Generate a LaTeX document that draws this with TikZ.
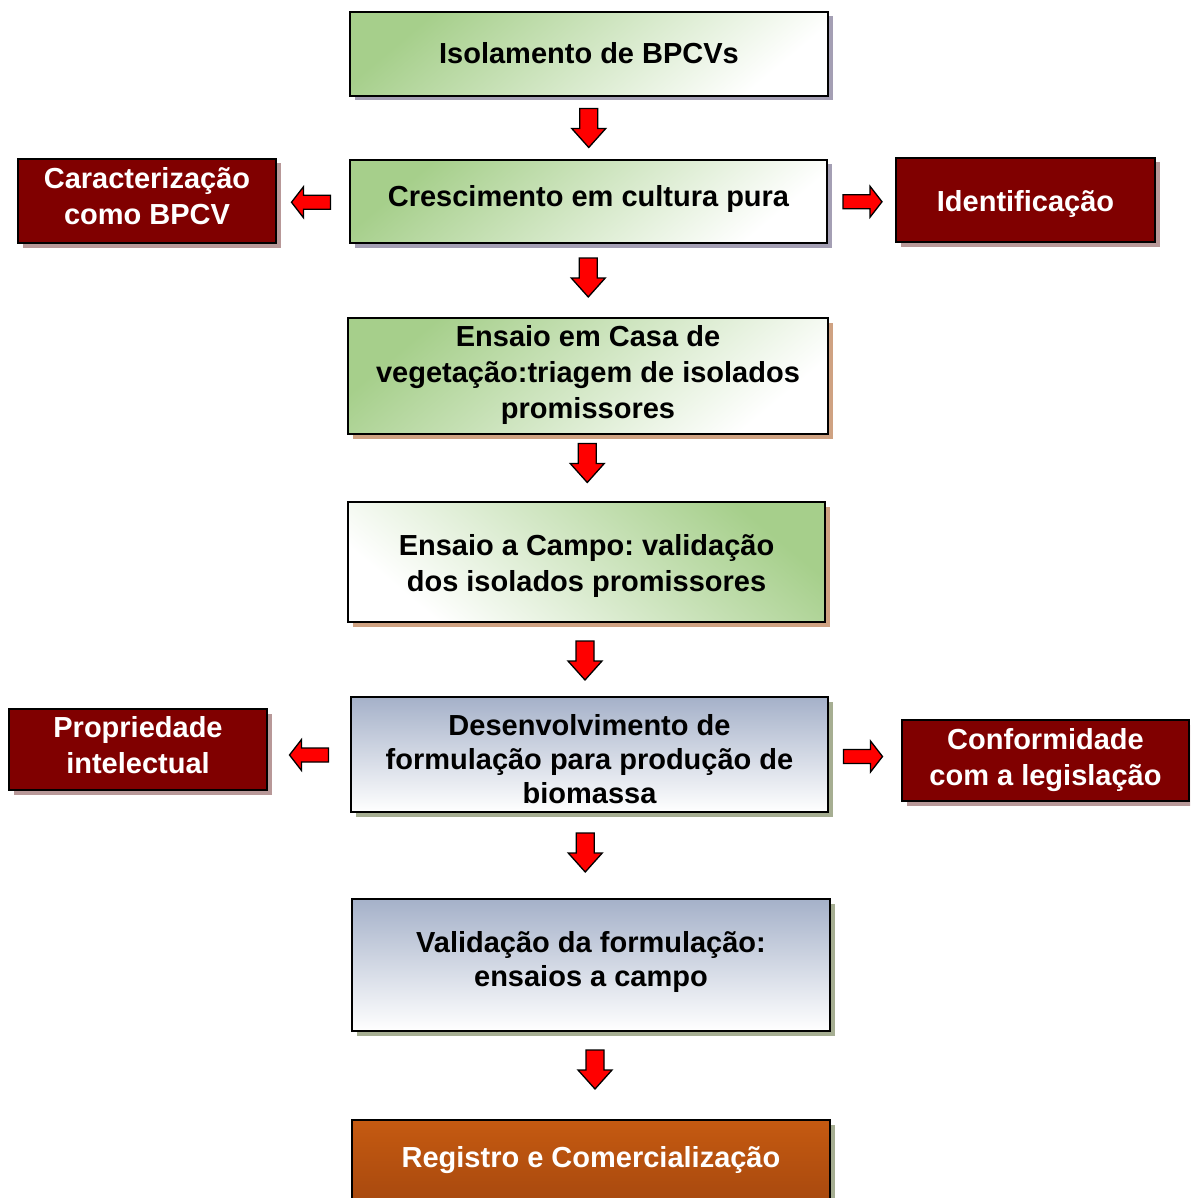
\documentclass[tikz,border=0pt]{standalone}
\usepackage{fontspec}
\setmainfont{Liberation Sans}
\usetikzlibrary{calc,shadows}
\frenchspacing
\definecolor{gr}{HTML}{A6CF8B}
\definecolor{bl}{HTML}{A5B1C9}
\definecolor{dred}{HTML}{800000}
\definecolor{orgA}{HTML}{C55A11}
\definecolor{orgB}{HTML}{A3460E}
\definecolor{shL}{HTML}{A49FB4}
\definecolor{shT}{HTML}{CFA282}
\definecolor{shO}{HTML}{A6AE92}
\definecolor{shR}{HTML}{B89898}
\newcommand{\Tx}[2][0pt]{\raisebox{#1}[\height][\depth]{\begin{tabular}{@{}c@{}}#2\end{tabular}}}
\tikzset{
  x=1pt, y=-1pt,
  every node/.style={font=\fontsize{29}{36}\selectfont\bfseries, inner sep=0pt},
  box/.style={draw=black, line width=2.5pt, rectangle, general shadow={fill=#1, shadow xshift=4.5pt, shadow yshift=-4.5pt}},
  greenTL/.style={box=shL, top color=gr, bottom color=white, shading angle=40},
  greenTLb/.style={box=shT, top color=gr, bottom color=white, shading angle=40},
  greenTR/.style={box=shT, top color=gr, bottom color=white, shading angle=-40},
  bluebox/.style={box=shO, top color=bl, bottom color=white},
  tight/.style={font=\fontsize{29}{34}\selectfont\bfseries},
  redbox/.style={box=shR, fill=dred, text=white},
  orangebox/.style={box=shO, top color=orgA, bottom color=orgB, text=white},
  arr/.style={draw=black, fill=red, line width=1.3pt, line join=miter},
  darrow/.pic={\path[arr] (-9pt,19.5pt) -- (9pt,19.5pt) -- (9pt,-0.5pt) -- (17pt,-0.5pt) -- (0pt,-19.5pt) -- (-17pt,-0.5pt) -- (-9pt,-0.5pt) -- cycle;},
  rarrow/.pic={\path[arr] (-19.5pt,7pt) -- (7.5pt,7pt) -- (7.5pt,15.5pt) -- (19.5pt,0pt) -- (7.5pt,-15.5pt) -- (7.5pt,-7pt) -- (-19.5pt,-7pt) -- cycle;},
  larrow/.pic={\path[arr] (19.5pt,7pt) -- (-7.5pt,7pt) -- (-7.5pt,15.5pt) -- (-19.5pt,0pt) -- (-7.5pt,-15.5pt) -- (-7.5pt,-7pt) -- (19.5pt,-7pt) -- cycle;},
}
\begin{document}
\begin{tikzpicture}
\clip (0,0) rectangle (1190,1198);
\fill[white] (0,0) rectangle (1190,1198);
\useasboundingbox (0,0) rectangle (1190,1198);

% main column
\node[greenTL, minimum width=478, minimum height=84] (b1) at (589,54) {\Tx[-2pt]{Isolamento de BPCVs}};
\node[greenTL, minimum width=477, minimum height=83] (b2) at (588.5,201.5) {\Tx[2pt]{Crescimento em cultura pura}};
\node[greenTLb, minimum width=480, minimum height=116] (b3) at (588,376) {\Tx[1pt]{Ensaio em Casa de\\vegetação:triagem de isolados\\promissores}};
\node[greenTR, minimum width=477, minimum height=120] (b4) at (586.5,562) {\Tx[-4pt]{Ensaio a Campo: validação\\dos isolados promissores}};
\node[bluebox, tight, minimum width=477, minimum height=115] (b5) at (589.5,754.5) {\Tx[-8pt]{Desenvolvimento de\\formulação para produção de\\biomassa}};
\node[bluebox, tight, minimum width=478, minimum height=132] (b6) at (591,965) {\Tx[2pt]{Validação da formulação:\\ensaios a campo}};
\node[orangebox, minimum width=478, minimum height=96] (b7) at (591,1168) {\Tx[8pt]{Registro e Comercialização}};

% side boxes
\node[redbox, minimum width=258, minimum height=84] (r1) at (147,201) {\Tx[2pt]{Caracterização\\como BPCV}};
\node[redbox, minimum width=259, minimum height=84] (r2) at (1025.5,200) {\Tx[-4pt]{Identificação}};
\node[redbox, minimum width=258, minimum height=81] (r3) at (138,749.5) {\Tx[1pt]{Propriedade\\intelectual}};
\node[redbox, minimum width=287, minimum height=81] (r4) at (1045.5,760.5) {\Tx{Conformidade\\com a legislação}};

% arrows
\pic at ($(b1.south)!0.5!(b2.north)$) {darrow};
\pic at ($(b2.south)!0.5!(b3.north)+(0,-3)$) {darrow};
\pic at ($(b3.south)!0.5!(b4.north)+(0,-5)$) {darrow};
\pic at ($(b4.south)!0.5!(b5.north)+(-3,1)$) {darrow};
\pic at ($(b5.south)!0.5!(b6.north)+(-5,-3)$) {darrow};
\pic at ($(b6.south)!0.5!(b7.north)+(4,-6)$) {darrow};
\pic at ($(r1.east)!0.5!(b2.west)+(-2,1)$) {larrow};
\pic at ($(b2.east)!0.5!(r2.west)+(1,1)$) {rarrow};
\pic at ($(r3.east)!0.5!(b5.west)+(0,3)$) {larrow};
\pic at ($(b5.east)!0.5!(r4.west)+(-2,-1)$) {rarrow};
\end{tikzpicture}
\end{document}
